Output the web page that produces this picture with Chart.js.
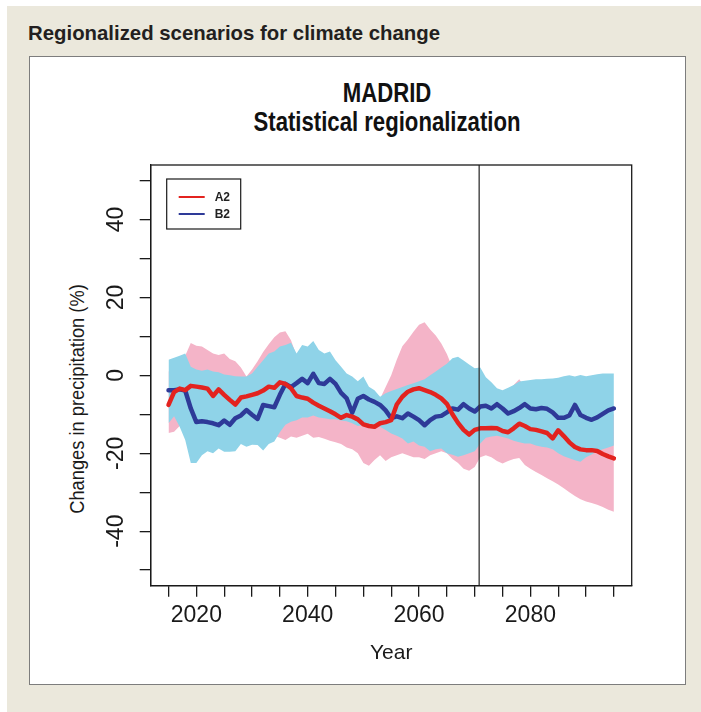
<!DOCTYPE html>
<html>
<head>
<meta charset="utf-8">
<script src="https://cdn.jsdelivr.net/npm/chart.js@4.4.1/dist/chart.umd.min.js"></script>
<style>
  html, body { margin: 0; padding: 0; background: #ffffff; }
  #page { position: absolute; left: 0; top: 0; width: 701px; height: 712px; overflow: hidden; background: #ffffff; }
  #beige { position: absolute; left: 7px; top: 6px; width: 694px; height: 706px; background: #EBE8DC; }
  #header { position: absolute; left: 28px; top: 22px; font-family: "Liberation Sans", Arial, sans-serif; font-weight: bold; font-size: 21px; line-height: 21px; color: #231f20; white-space: nowrap; transform-origin: 0 0; }
  #box { position: absolute; left: 29px; top: 56px; width: 655px; height: 627px; background: #ffffff; border: 1.5px solid #7d7d7d; }
  .ptitle { position: absolute; left: 387px; font-family: "Liberation Sans", Arial, sans-serif; font-weight: bold; font-size: 27px; line-height: 29px; color: #111; white-space: nowrap; transform: translate(-50%, -50%) scaleX(0.82); }
  #t1 { top: 93px; }
  #t2 { top: 122px; }
  #ytitle { position: absolute; left: 77px; top: 399px; transform: translate(-50%, -50%) rotate(-90deg) scaleX(0.87); font-family: "Liberation Sans", Arial, sans-serif; font-size: 21px; color: #1a1a1a; white-space: nowrap; }
  canvas { position: absolute; left: 0; top: 0; }
</style>
</head>
<body>
<div id="page">
  <div id="beige"></div>
  <div id="header">Regionalized scenarios for climate change</div>
  <div id="box"></div>
  <div class="ptitle" id="t1">MADRID</div>
  <div class="ptitle" id="t2">Statistical regionalization</div>
  <div id="ytitle">Changes in precipitation (%)</div>
  <canvas id="c" width="701" height="712"></canvas>
</div>
<script>
// ---------- DATA ----------
const YEARS = [2015,2016,2017,2018,2019,2020,2021,2022,2023,2024,
  2025,2026,2027,2028,2029,2030,2031,2032,2033,2034,
  2035,2036,2037,2038,2039,2040,2041,2042,2043,2044,
  2045,2046,2047,2048,2049,2050,2051,2052,2053,2054,
  2055,2056,2057,2058,2059,2060,2061,2062,2063,2064,
  2065,2066,2067,2068,2069,2070,2071,2072,2073,2074,
  2075,2076,2077,2078,2079,2080,2081,2082,2083,2084,
  2085,2086,2087,2088,2089,2090,2091,2092,2093,2094,2095];

const SERIES_NAMES = ['A2', 'B2'];

// A2 scenario ensemble mean (red)
const A2_MEAN = [-7.6,-4.3,-3.4,-3.8,-2.7,-2.9,-3.1,-3.4,-5.3,-3.6,
  -5.0,-6.3,-7.5,-5.7,-5.4,-5.0,-4.6,-3.9,-2.9,-3.2,
  -1.8,-2.2,-3.3,-5.3,-5.7,-6.0,-7.0,-7.8,-8.5,-9.2,
  -10.0,-10.9,-10.2,-10.6,-11.3,-12.6,-13.0,-13.2,-12.3,-12.0,
  -11.5,-7.5,-5.5,-4.2,-3.6,-3.3,-3.8,-4.3,-5.0,-5.9,
  -7.3,-10.0,-12.2,-14.0,-15.2,-14.0,-13.6,-13.6,-13.5,-13.6,
  -14.3,-14.6,-13.6,-12.4,-13.0,-13.8,-14.0,-14.4,-14.8,-16.2,
  -14.1,-15.6,-17.2,-18.4,-19.0,-19.2,-19.2,-19.4,-20.2,-20.8,-21.3];

// B2 scenario ensemble mean (blue)
const B2_MEAN = [-3.8,-3.8,-3.6,-3.9,-8.5,-12.0,-11.8,-12.0,-12.3,-12.8,
  -11.6,-12.7,-11.0,-10.3,-8.9,-10.1,-11.2,-7.6,-7.9,-8.2,
  -5.0,-2.2,-3.0,-2.0,-0.9,-2.0,0.4,-2.0,-2.2,-0.9,
  -2.2,-4.5,-5.9,-9.6,-6.0,-5.3,-6.2,-6.8,-7.6,-9.0,
  -11.0,-10.5,-11.0,-9.8,-10.6,-11.5,-12.8,-11.5,-10.6,-10.4,
  -9.5,-8.5,-8.8,-7.4,-8.5,-9.3,-8.0,-7.8,-8.5,-7.4,
  -8.5,-9.8,-9.2,-8.4,-7.4,-8.5,-8.7,-8.4,-8.6,-9.5,
  -10.9,-10.9,-10.3,-7.6,-10.2,-10.9,-11.4,-10.8,-9.9,-9.0,-8.5];

// A2 spread (pink band)
const A2_UPPER = [1.0,2.0,4.0,5.0,8.3,7.6,7.4,6.5,5.6,5.2,
  5.6,4.2,3.6,2.0,-0.3,1.5,3.6,6.0,8.0,9.8,
  11.0,11.3,9.0,5.0,3.0,1.5,0.5,-0.5,-1.5,-2.0,
  -2.5,-3.0,-3.5,-4.0,-4.0,-4.5,-5.0,-5.5,-6.0,-3.0,
  0.0,4.0,7.5,9.2,11.2,13.0,13.6,11.8,10.2,8.2,
  5.5,2.0,-1.0,-3.0,-4.0,-5.0,-6.0,-6.5,-7.0,-7.0,
  -6.0,-4.5,-2.5,-1.0,-3.0,-4.0,-4.5,-5.0,-5.5,-6.0,
  -6.5,-7.0,-7.5,-8.0,-8.5,-9.0,-9.0,-9.5,-9.5,-10.0,-10.0];
const A2_LOWER = [-14.8,-14.5,-13.0,-14.0,-15.0,-15.0,-15.0,-14.5,-15.0,-14.5,
  -15.0,-15.0,-15.5,-15.0,-15.0,-15.0,-15.0,-15.5,-15.5,-15.5,
  -16.0,-16.6,-15.7,-16.0,-15.5,-15.0,-16.0,-15.8,-16.3,-16.8,
  -17.2,-17.6,-18.5,-19.0,-20.0,-22.5,-23.2,-21.7,-20.5,-22.0,
  -21.0,-20.5,-20.0,-20.5,-21.0,-21.0,-21.5,-20.5,-20.0,-19.5,
  -20.0,-21.5,-22.5,-24.0,-24.5,-23.5,-21.0,-20.5,-21.0,-22.0,
  -22.6,-22.0,-21.5,-21.2,-23.0,-24.0,-24.8,-25.6,-26.4,-27.2,
  -28.0,-29.0,-30.0,-31.0,-31.8,-32.4,-32.8,-33.2,-33.8,-34.5,-35.0];

// B2 spread (light blue band)
const B2_UPPER = [4.0,4.5,5.0,5.6,2.2,1.5,1.2,1.5,1.0,0.8,
  0.2,0.0,-0.2,-0.3,-0.3,0.5,2.2,3.9,5.6,6.1,
  7.4,7.8,8.4,5.6,7.8,7.4,8.8,6.5,5.6,6.1,
  3.9,2.2,0.5,-0.3,-1.5,-0.3,-2.9,-3.8,-5.5,-4.6,
  -4.0,-3.5,-3.0,-2.5,-2.0,-1.5,-1.0,0.0,1.0,2.0,
  3.0,4.4,4.8,3.8,2.8,1.8,2.0,-0.5,-1.8,-3.3,
  -3.8,-3.2,-2.5,-1.6,-1.4,-1.2,-1.0,-1.0,-0.9,-0.8,
  -0.6,-0.2,0.0,-0.3,0.1,-0.2,0.0,0.3,0.5,0.5,0.5];
const B2_LOWER = [-12.3,-10.5,-13.2,-16.6,-22.5,-22.5,-20.5,-19.5,-20.0,-18.8,
  -19.6,-19.6,-19.5,-17.6,-18.3,-17.8,-17.9,-19.3,-17.6,-17.0,
  -14.6,-12.7,-11.9,-11.5,-10.8,-10.8,-10.3,-10.8,-11.0,-11.3,
  -11.3,-11.6,-11.8,-12.3,-13.0,-12.8,-12.6,-12.8,-13.2,-14.0,
  -14.9,-15.5,-16.2,-17.5,-17.0,-18.0,-18.3,-19.5,-19.0,-18.8,
  -20.0,-20.4,-20.9,-20.5,-20.0,-19.5,-17.5,-16.0,-15.7,-15.5,
  -15.8,-16.2,-16.8,-17.2,-17.5,-17.5,-18.0,-18.3,-18.5,-19.0,
  -20.0,-20.8,-21.3,-21.8,-22.2,-21.0,-20.3,-19.5,-19.0,-18.5,-18.0];

// Year separating the periods (vertical reference line)
const VLINE_YEAR = 2070.8;

// Axes
const X_MIN = 2011.8, X_MAX = 2098.2;
const Y_MIN = -54, Y_MAX = 54;
const X_TICKS = [2015,2020,2025,2030,2035,2040,2045,2050,2055,2060,2065,2070,2075,2080,2085,2090,2095];
const X_LABELS = [2020, 2040, 2060, 2080];
const Y_TICKS = [-50,-40,-30,-20,-10,0,10,20,30,40,50];
const Y_LABELS = [-40, -20, 0, 20, 40];

// ---------- header width fit ----------
(function fitHeader(){
  const el = document.getElementById('header');
  const w = el.getBoundingClientRect().width;
  const target = 412;
  if (w > 0) el.style.transform = 'scaleX(' + (target / w) + ')';
})();

const pts = (vals) => YEARS.map((y, i) => ({x: y, y: vals[i]}));

const PINK = '#F4B4C8';
const SKY = '#8FD3E8';
const RED = '#E3231F';
const NAVY = '#2E3A98';

// Plot frame (box around the plotting region)
const framePlugin = {
  id: 'frame',
  afterDatasetsDraw(chart) {
    const a = chart.chartArea, ctx = chart.ctx;
    ctx.save();
    ctx.strokeStyle = '#1a1a1a';
    ctx.lineWidth = 1.3;
    ctx.strokeRect(a.left, a.top, a.right - a.left, a.bottom - a.top);
    ctx.restore();
  }
};

// Boxed legend in the upper-left corner of the plot
const boxLegendPlugin = {
  id: 'boxLegend',
  afterDraw(chart) {
    const a = chart.chartArea, ctx = chart.ctx;
    const items = SERIES_NAMES.map(n => chart.data.datasets.find(d => d.label === n));
    const bx = a.left + 16, by = a.top + 14, bw = 74, bh = 50;
    ctx.save();
    ctx.fillStyle = '#ffffff';
    ctx.fillRect(bx, by, bw, bh);
    ctx.strokeStyle = '#1a1a1a';
    ctx.lineWidth = 1.2;
    ctx.strokeRect(bx, by, bw, bh);
    ctx.font = 'bold 12px "Liberation Sans", Arial, sans-serif';
    ctx.textBaseline = 'middle';
    ctx.textAlign = 'left';
    items.forEach((d, i) => {
      const yy = by + 18 + i * 17;
      ctx.strokeStyle = d.borderColor;
      ctx.lineWidth = 2;
      ctx.beginPath();
      ctx.moveTo(bx + 12, yy);
      ctx.lineTo(bx + 38, yy);
      ctx.stroke();
      ctx.fillStyle = '#222';
      ctx.fillText(d.label, bx + 48, yy + 0.5);
    });
    ctx.restore();
  }
};

const ctx = document.getElementById('c').getContext('2d');
new Chart(ctx, {
  type: 'line',
  data: {
    datasets: [
      { label: 'A2 upper', data: pts(A2_UPPER), borderWidth: 0, pointRadius: 0, backgroundColor: PINK, fill: '+1', order: 10, tension: 0 },
      { label: 'A2 lower', data: pts(A2_LOWER), borderWidth: 0, pointRadius: 0, fill: false, order: 10, tension: 0 },
      { label: 'B2 upper', data: pts(B2_UPPER), borderWidth: 0, pointRadius: 0, backgroundColor: SKY, fill: '+1', order: 9, tension: 0 },
      { label: 'B2 lower', data: pts(B2_LOWER), borderWidth: 0, pointRadius: 0, fill: false, order: 9, tension: 0 },
      { label: 'B2', data: pts(B2_MEAN), borderColor: NAVY, borderWidth: 4.5, pointRadius: 0, fill: false, order: 3, tension: 0, borderJoinStyle: 'round', borderCapStyle: 'round' },
      { label: 'A2', data: pts(A2_MEAN), borderColor: RED, borderWidth: 4.5, pointRadius: 0, fill: false, order: 2, tension: 0, borderJoinStyle: 'round', borderCapStyle: 'round' },
      { label: 'divider', data: [{x: VLINE_YEAR, y: Y_MIN}, {x: VLINE_YEAR, y: Y_MAX}], borderColor: '#333333', borderWidth: 1.3, pointRadius: 0, fill: false, order: 1 }
    ]
  },
  options: {
    responsive: false,
    animation: false,
    devicePixelRatio: 1,
    layout: { padding: { left: 0, right: 69.3, top: 165, bottom: 0 } },
    plugins: {
      legend: { display: false },
      tooltip: { enabled: false },
      title: { display: false }
    },
    scales: {
      x: {
        type: 'linear',
        min: X_MIN, max: X_MAX,
        afterBuildTicks: (s) => { s.ticks = X_TICKS.map(v => ({ value: v })); },
        afterFit: (s) => { s.height = 712 - 585.7; },
        ticks: {
          autoSkip: false, maxRotation: 0, minRotation: 0, includeBounds: false,
          padding: 5.5, color: '#1a1a1a',
          font: { family: '"Liberation Sans", Arial, sans-serif', size: 23 },
          callback: (v) => X_LABELS.includes(v) ? String(v) : ''
        },
        grid: { drawOnChartArea: false, drawTicks: true, tickLength: 11, color: '#1a1a1a', lineWidth: 1.3 },
        border: { display: true, color: '#1a1a1a', width: 1.3 },
        title: { display: true, text: 'Year', color: '#1a1a1a', font: { family: '"Liberation Sans", Arial, sans-serif', size: 21 }, padding: { top: 0, bottom: 46.5 } }
      },
      y: {
        type: 'linear',
        min: Y_MIN, max: Y_MAX,
        afterBuildTicks: (s) => { s.ticks = Y_TICKS.map(v => ({ value: v })); },
        afterFit: (s) => { s.width = 150.7; },
        ticks: {
          autoSkip: false, minRotation: 90, maxRotation: 90, includeBounds: false,
          crossAlign: 'center', padding: 6.4, color: '#1a1a1a',
          font: { family: '"Liberation Sans", Arial, sans-serif', size: 23 },
          callback: (v) => Y_LABELS.includes(v) ? String(v) : ''
        },
        grid: { drawOnChartArea: false, drawTicks: true, tickLength: 11, color: '#1a1a1a', lineWidth: 1.3 },
        border: { display: true, color: '#1a1a1a', width: 1.3 },
        title: { display: false }
      }
    }
  },
  plugins: [framePlugin, boxLegendPlugin]
});
</script>
</body>
</html>
